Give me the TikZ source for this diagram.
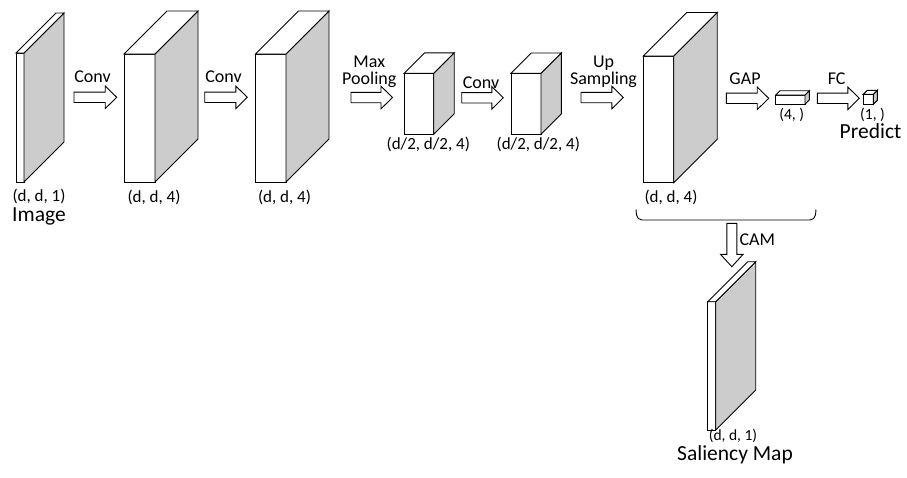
\documentclass[tikz,border=0pt]{standalone}
\usepackage{fontspec}
\setmainfont{Carlito}
\definecolor{sidegray}{RGB}{204,204,204}
\tikzset{
  face/.style={draw=black, line width=0.9pt, fill=white, line join=miter},
  gface/.style={face, fill=sidegray},
  blockarr/.style={draw=black, line width=0.9pt, fill=white},
  lbl/.style={inner sep=0pt, font=\fontsize{18}{17.5}\selectfont},
  dim/.style={inner sep=0pt, font=\fontsize{17}{20}\selectfont},
  small/.style={inner sep=0pt, font=\fontsize{15.5}{18}\selectfont},
  big/.style={inner sep=0pt, font=\fontsize{21.5}{25}\selectfont},
}
% name, x, y (front top-left), w, h, depth
\newcommand\mycuboid[6]{%
  \draw[face] (#2,#3) rectangle ++(#4,#5);
  \draw[gface] (#2+#4,#3) -- ++(#6,-#6) -- ++(0,#5) -- (#2+#4,#3+#5) -- cycle;
  \draw[face] (#2,#3) -- ++(#6,-#6) -- ++(#4,0) -- (#2+#4,#3) -- cycle;
  \coordinate (#1) at (#2+#4/2,#3+#5/2);
  \coordinate (#1-w) at (#2,#3+#5/2);
  \coordinate (#1-e) at (#2+#4,#3+#5/2);}
% horizontal block arrow: from coordinate #1 to coordinate #2
\newcommand\hblockarrow[2]{%
  \path let \p1=(#1), \p2=(#2) in
    [blockarr] (\x1,\y1+5.2pt) -- (\x2-11.5pt,\y1+5.2pt) -- (\x2-11.5pt,\y1+11.3pt)
    -- (\x2,\y1) -- (\x2-11.5pt,\y1-11.3pt) -- (\x2-11.5pt,\y1-5.2pt) -- (\x1,\y1-5.2pt) -- cycle;}
\usetikzlibrary{calc}
\begin{document}
\begin{tikzpicture}[x=1pt,y=-1pt]
\useasboundingbox (0,0) rectangle (907,477);

% cuboids
\mycuboid{img}{16}{53}{8}{129}{40}
\mycuboid{c1}{124}{54}{31}{128}{43}
\mycuboid{c2}{255.5}{54}{30.5}{128}{43}
\mycuboid{mp}{404.3}{73.3}{29.4}{61}{20.5}
\mycuboid{c3}{511}{73.3}{30}{61}{20.3}
\mycuboid{up}{643.3}{56}{30.4}{126.7}{43.5}
\mycuboid{gap}{775.7}{95}{29.3}{9.3}{4.3}
\mycuboid{fc}{863.3}{94.3}{10}{10}{4}
\mycuboid{sal}{707.7}{301.7}{8}{128.3}{40}

% arrow end points
\coordinate (a1s) at (74,97.3);   \coordinate (a1e) at (116.7,97.3);
\coordinate (a2s) at (204.7,97.3);\coordinate (a2e) at (247.3,97.3);
\coordinate (a3s) at (351,97.5);  \coordinate (a3e) at (392.5,97.5);
\coordinate (a4s) at (461.7,97.8);\coordinate (a4e) at (503.3,97.8);
\coordinate (a5s) at (581,97.5);  \coordinate (a5e) at (623.3,97.5);
\coordinate (a6s) at (726.3,98.3);\coordinate (a6e) at (768.7,98.3);
\coordinate (a7s) at (817.3,98.3);\coordinate (a7e) at (859.3,98.3);
\hblockarrow{a1s}{a1e}
\hblockarrow{a2s}{a2e}
\hblockarrow{a3s}{a3e}
\hblockarrow{a4s}{a4e}
\hblockarrow{a5s}{a5e}
\hblockarrow{a6s}{a6e}
\hblockarrow{a7s}{a7e}

% brace
\coordinate (brl) at (636,209.5);
\coordinate (brr) at (816,209.5);
\draw[line width=0.9pt, rounded corners=5pt] (brl) -- ($(brl)+(1,10.5)$) -- ($(brr)+(-1,10.5)$) -- (brr);

% CAM arrow (vertical)
\coordinate (camtop) at (731.8,223.3);
\coordinate (camtip) at (731.8,266.7);
\path let \p1=(camtop), \p2=(camtip) in
  [blockarr] (\x1-5pt,\y1) -- (\x1+5pt,\y1) -- (\x1+5pt,\y2+12.4pt) -- (\x1+11.3pt,\y2+12.4pt)
  -- (\x2,\y2) -- (\x1-11.3pt,\y2+12.4pt) -- (\x1-5pt,\y2+12.4pt) -- cycle;

% labels
\node[lbl] (t1) at (92.5,76.7) {Conv};
\node[lbl] (t2) at (223.5,76.7) {Conv};
\node[lbl, align=center, anchor=north] (t3) at (369.3,55.5) {Max\\Pooling};
\node[lbl] (t4) at (481,82.5) {Conv};
\node[lbl, align=center, anchor=north] (t5) at (603.5,55.5) {Up\\Sampling};
\node[lbl] (t6) at (745,78.3) {GAP};
\node[lbl] (t7) at (836.7,78.3) {FC};
\node[lbl, anchor=west] (t8) at (739.3,240) {CAM};

\node[dim] (d1) at (39,196.8) {(d, d, 1)};
\node[big, anchor=north] (n1) at (39,207.5) {Image};
\node[dim] (d2) at (154,197.3) {(d, d, 4)};
\node[dim] (d3) at (284.5,197.3) {(d, d, 4)};
\node[dim] (d4) at (428.3,144.2) {(d/2, d/2, 4)};
\node[dim] (d5) at (538.3,144.2) {(d/2, d/2, 4)};
\node[dim] (d6) at (671,197.5) {(d, d, 4)};
\node[small] (d7) at (791.7,115) {(4, )};
\node[small] (d8) at (872.5,115) {(1, )};
\node[big, anchor=north] (n2) at (870.5,123.5) {Predict};
\node[small] (d9) at (733,436) {(d, d, 1)};
\node[big, anchor=north] (n3) at (735,445) {Saliency Map};
\end{tikzpicture}
\end{document}
